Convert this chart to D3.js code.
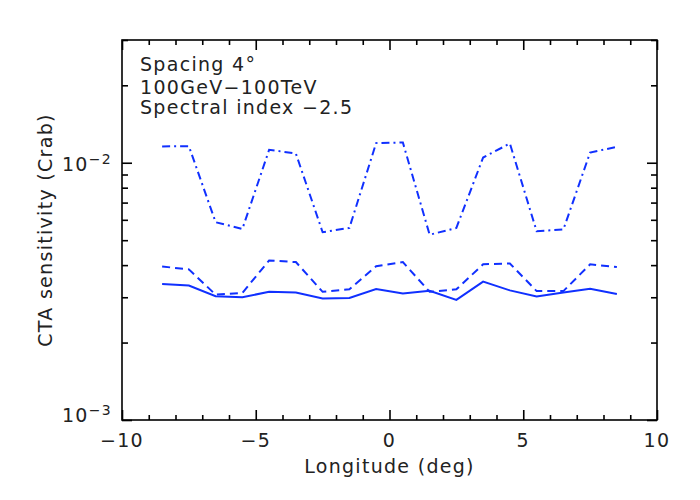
<!DOCTYPE html>
<html>
<head>
<meta charset="utf-8">
<script src="https://cdn.jsdelivr.net/npm/d3@7"></script>
<style>
  body { margin: 0; background: #fff; }
  svg text { font-family: "DejaVu Sans", sans-serif; fill: #222; }
  .axis path, .axis line { stroke: #000; stroke-width: 1.6; }
</style>
</head>
<body>
<div id="chart"></div>
<script>
// galactic longitude of each pointing bin
const lon = [-8.5, -7.5, -6.5, -5.5, -4.5, -3.5, -2.5, -1.5, -0.5,
              0.5,  1.5,  2.5,  3.5,  4.5,  5.5,  6.5,  7.5,  8.5];
// sensitivity in Crab units, three curves
const sensSolid   = [3.38e-3, 3.33e-3, 3.03e-3, 3.00e-3, 3.15e-3, 3.13e-3, 2.97e-3, 2.98e-3, 3.23e-3,
                     3.10e-3, 3.18e-3, 2.93e-3, 3.45e-3, 3.19e-3, 3.02e-3, 3.13e-3, 3.24e-3, 3.09e-3];
const sensDashed  = [3.95e-3, 3.85e-3, 3.07e-3, 3.12e-3, 4.17e-3, 4.11e-3, 3.15e-3, 3.22e-3, 3.96e-3,
                     4.11e-3, 3.15e-3, 3.22e-3, 4.03e-3, 4.06e-3, 3.17e-3, 3.17e-3, 4.03e-3, 3.93e-3];
const sensDashDot = [1.157e-2, 1.16e-2, 5.87e-3, 5.53e-3, 1.123e-2, 1.086e-2, 5.37e-3, 5.58e-3, 1.192e-2,
                     1.199e-2, 5.25e-3, 5.58e-3, 1.048e-2, 1.188e-2, 5.42e-3, 5.50e-3, 1.096e-2, 1.153e-2];

const xMajor = [-10, -5, 0, 5, 10];
const xMinor = d3.range(-10, 11).filter(v => v % 5 !== 0);
const yMajor = [1e-3, 1e-2];
const yMinor = [2e-3, 3e-3, 4e-3, 5e-3, 6e-3, 7e-3, 8e-3, 9e-3, 2e-2, 3e-2];
const notes = ["Spacing 4\u00b0", "100GeV\u2212100TeV", "Spectral index \u22122.5"];

const svg = d3.select("#chart").append("svg")
    .attr("width", 700)
    .attr("height", 500);

let margin = {top: 40, right: 43, bottom: 80, left: 122},
    width = 700 - margin.left - margin.right,
    height = 500 - margin.top - margin.bottom;

let x = d3.scaleLinear().domain([-10, 10]).range([margin.left, margin.left + width]),
    y = d3.scaleLog().domain([1e-3, 3e-2]).range([margin.top + height, margin.top]);

const fontCss = "font-size:19px; letter-spacing:1.3px";

// frame
svg.append("rect")
    .attr("x", margin.left).attr("y", margin.top)
    .attr("width", width).attr("height", height)
    .attr("fill", "none").attr("stroke", "#000").attr("stroke-width", 1.6);

function ticksOnly(axis, vals, size) {
  return axis.tickValues(vals).tickSize(size).tickFormat("");
}

// x axis ticks (bottom + top, pointing inward)
[[d3.axisBottom, margin.top + height, -10, -5], [d3.axisTop, margin.top, -10, -5]].forEach(([ax, ty, maj, min]) => {
  svg.append("g").attr("class", "axis").attr("transform", "translate(0," + ty + ")")
      .call(ticksOnly(ax(x), xMajor, maj)).select(".domain").remove();
  svg.append("g").attr("class", "axis").attr("transform", "translate(0," + ty + ")")
      .call(ticksOnly(ax(x), xMinor, min)).select(".domain").remove();
});

// y axis ticks (left + right)
[[d3.axisLeft, margin.left], [d3.axisRight, margin.left + width]].forEach(([ax, tx]) => {
  svg.append("g").attr("class", "axis").attr("transform", "translate(" + tx + ",0)")
      .call(ticksOnly(ax(y), yMajor, -10)).select(".domain").remove();
  svg.append("g").attr("class", "axis").attr("transform", "translate(" + tx + ",0)")
      .call(ticksOnly(ax(y), yMinor, -6)).select(".domain").remove();
});

// x tick labels
svg.append("g").selectAll("text")
    .data(xMajor).enter().append("text")
    .attr("x", d => x(d))
    .attr("y", 447)
    .attr("text-anchor", "middle")
    .attr("style", fontCss)
    .text(d => d < 0 ? "\u2212" + Math.abs(d) : d);

svg.append("text")
    .attr("x", x(0)).attr("y", 473)
    .attr("text-anchor", "middle")
    .attr("style", fontCss)
    .text("Longitude (deg)");

// y tick labels, 10^n
let yl = svg.append("g").selectAll("text")
    .data(yMajor).enter().append("text")
    .attr("x", 112)
    .attr("y", d => Math.min(y(d) + 8, 422))
    .attr("text-anchor", "end")
    .attr("style", fontCss);
yl.append("tspan").text("10");
yl.append("tspan").attr("dy", -7).style("font-size", "14px").text(d => "\u2212" + Math.round(-Math.log10(d)));

svg.append("text")
    .attr("transform", "translate(52," + (margin.top + height / 2) + ") rotate(-90)")
    .attr("text-anchor", "middle")
    .attr("style", fontCss)
    .text("CTA sensitivity (Crab)");

// notes
svg.append("g").selectAll("text")
    .data(notes).enter().append("text")
    .attr("x", 140)
    .attr("y", (d, i) => [71, 94, 114][i])
    .attr("style", fontCss)
    .text(d => d);

// curves
const series = [
  {vals: sensSolid, dash: null},
  {vals: sensDashed, dash: "8,5"},
  {vals: sensDashDot, dash: "8,4,2,4"}
];
const line = d3.line()
    .x(d => x(d[0]))
    .y(d => y(d[1]));

svg.append("g").selectAll("path")
    .data(series).enter().append("path")
    .attr("d", s => line(lon.map((l, i) => [l, s.vals[i]])))
    .attr("fill", "none")
    .attr("stroke", "#1030ff")
    .attr("stroke-width", 2)
    .attr("stroke-dasharray", s => s.dash);
</script>
</body>
</html>
